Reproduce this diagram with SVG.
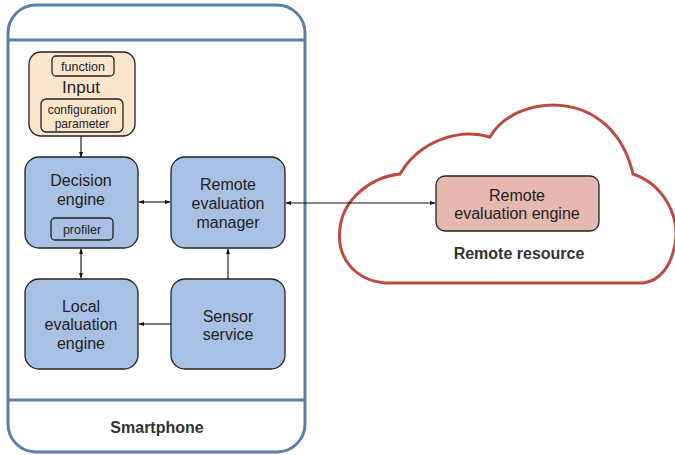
<svg xmlns="http://www.w3.org/2000/svg" width="675" height="455" viewBox="0 0 675 455">
  <defs>
    <style>
      text { font-family: "Liberation Sans", Arial, sans-serif; fill: #222; text-anchor: middle; }
      .lbl { font-size: 16px; }
      .sm { font-size: 12.5px; }
      .cfg { font-size: 12px; }
      .bold { font-size: 16px; font-weight: bold; fill: #333; }
      .blue { fill: #a7c0e4; stroke: #222; stroke-width: 1.3; }
      .peach { fill: #fce5cd; stroke: #222; stroke-width: 1.3; }
      .sub { fill: none; stroke: #222; stroke-width: 1.3; }
      .conn { stroke: #111; stroke-width: 1.1; fill: none; }
    </style>
    <marker id="ah" viewBox="0 0 10 10" refX="9" refY="5" markerWidth="6" markerHeight="6" orient="auto-start-reverse" markerUnits="userSpaceOnUse">
      <path d="M0,1.5 L10,5 L0,8.5 Z" fill="#111"/>
    </marker>
  </defs>

  <rect width="675" height="455" fill="#fff"/>

  <!-- smartphone frame -->
  <g id="smartphone">
    <rect x="8" y="5" width="297" height="447" rx="28" ry="28" fill="#fff" stroke="#5b7fa9" stroke-width="3"/>
    <line x1="8" y1="40" x2="305" y2="40" stroke="#5b7fa9" stroke-width="3"/>
    <line x1="8" y1="400" x2="305" y2="400" stroke="#5b7fa9" stroke-width="3"/>
    <text class="bold" x="157" y="433">Smartphone</text>
  </g>

  <!-- remote resource cloud -->
  <g id="cloud">
    <path d="M400,174 C420,140 460,128 490,137 C515,93 612,85 633,174 C665,185 680,218 675,244 C671,266 660,281 643,283 L385,283 C355,280 336,258 340,228 C343,200 370,177 400,174 Z" fill="#fff" stroke="#bf4a44" stroke-width="3"/>
    <text class="bold" x="519" y="259">Remote resource</text>
  </g>

  <g id="input">
    <rect class="peach" x="29" y="52" width="106" height="84" rx="12"/>
    <rect class="sub" x="52" y="56" width="62" height="20" rx="4"/>
    <text class="sm" x="83" y="70.5">function</text>
    <text class="lbl" x="81" y="93" style="font-size:17px">Input</text>
    <rect class="sub" x="41" y="99" width="82" height="33" rx="5"/>
    <text class="cfg" x="82" y="114">configuration</text>
    <text class="cfg" x="82" y="127.5">parameter</text>
  </g>

  <g id="decision-engine">
    <rect class="blue" x="25" y="157" width="113" height="91" rx="14"/>
    <text class="lbl" x="81" y="186">Decision</text>
    <text class="lbl" x="81" y="205">engine</text>
    <rect class="sub" x="51" y="218" width="62" height="22" rx="4"/>
    <text class="sm" x="82" y="233.5">profiler</text>
  </g>

  <g id="remote-evaluation-manager">
    <rect class="blue" x="171" y="157" width="114" height="91" rx="14"/>
    <text class="lbl" x="228" y="190">Remote</text>
    <text class="lbl" x="228" y="209">evaluation</text>
    <text class="lbl" x="228" y="228">manager</text>
  </g>

  <g id="local-evaluation-engine">
    <rect class="blue" x="25" y="279" width="113" height="90" rx="14"/>
    <text class="lbl" x="81" y="312">Local</text>
    <text class="lbl" x="81" y="330">evaluation</text>
    <text class="lbl" x="81" y="349">engine</text>
  </g>

  <g id="sensor-service">
    <rect class="blue" x="171" y="279" width="114" height="90" rx="14"/>
    <text class="lbl" x="228" y="322">Sensor</text>
    <text class="lbl" x="228" y="340">service</text>
  </g>

  <g id="remote-evaluation-engine">
    <rect x="436" y="176" width="163" height="55" rx="9" fill="#e6b8af" stroke="#222" stroke-width="1.3"/>
    <text class="lbl" x="517" y="201">Remote</text>
    <text class="lbl" x="517" y="219">evaluation engine</text>
  </g>

  <!-- connectors -->
  <g id="connectors">
    <line class="conn" x1="81" y1="136" x2="81" y2="157" marker-end="url(#ah)"/>
    <line class="conn" x1="139" y1="202" x2="170" y2="202" marker-start="url(#ah)" marker-end="url(#ah)"/>
    <line class="conn" x1="286" y1="203" x2="435" y2="203" marker-start="url(#ah)" marker-end="url(#ah)"/>
    <line class="conn" x1="81" y1="249" x2="81" y2="278" marker-start="url(#ah)" marker-end="url(#ah)"/>
    <line class="conn" x1="171" y1="324" x2="139" y2="324" marker-end="url(#ah)"/>
    <line class="conn" x1="228" y1="279" x2="228" y2="249" marker-end="url(#ah)"/>
  </g>
</svg>
